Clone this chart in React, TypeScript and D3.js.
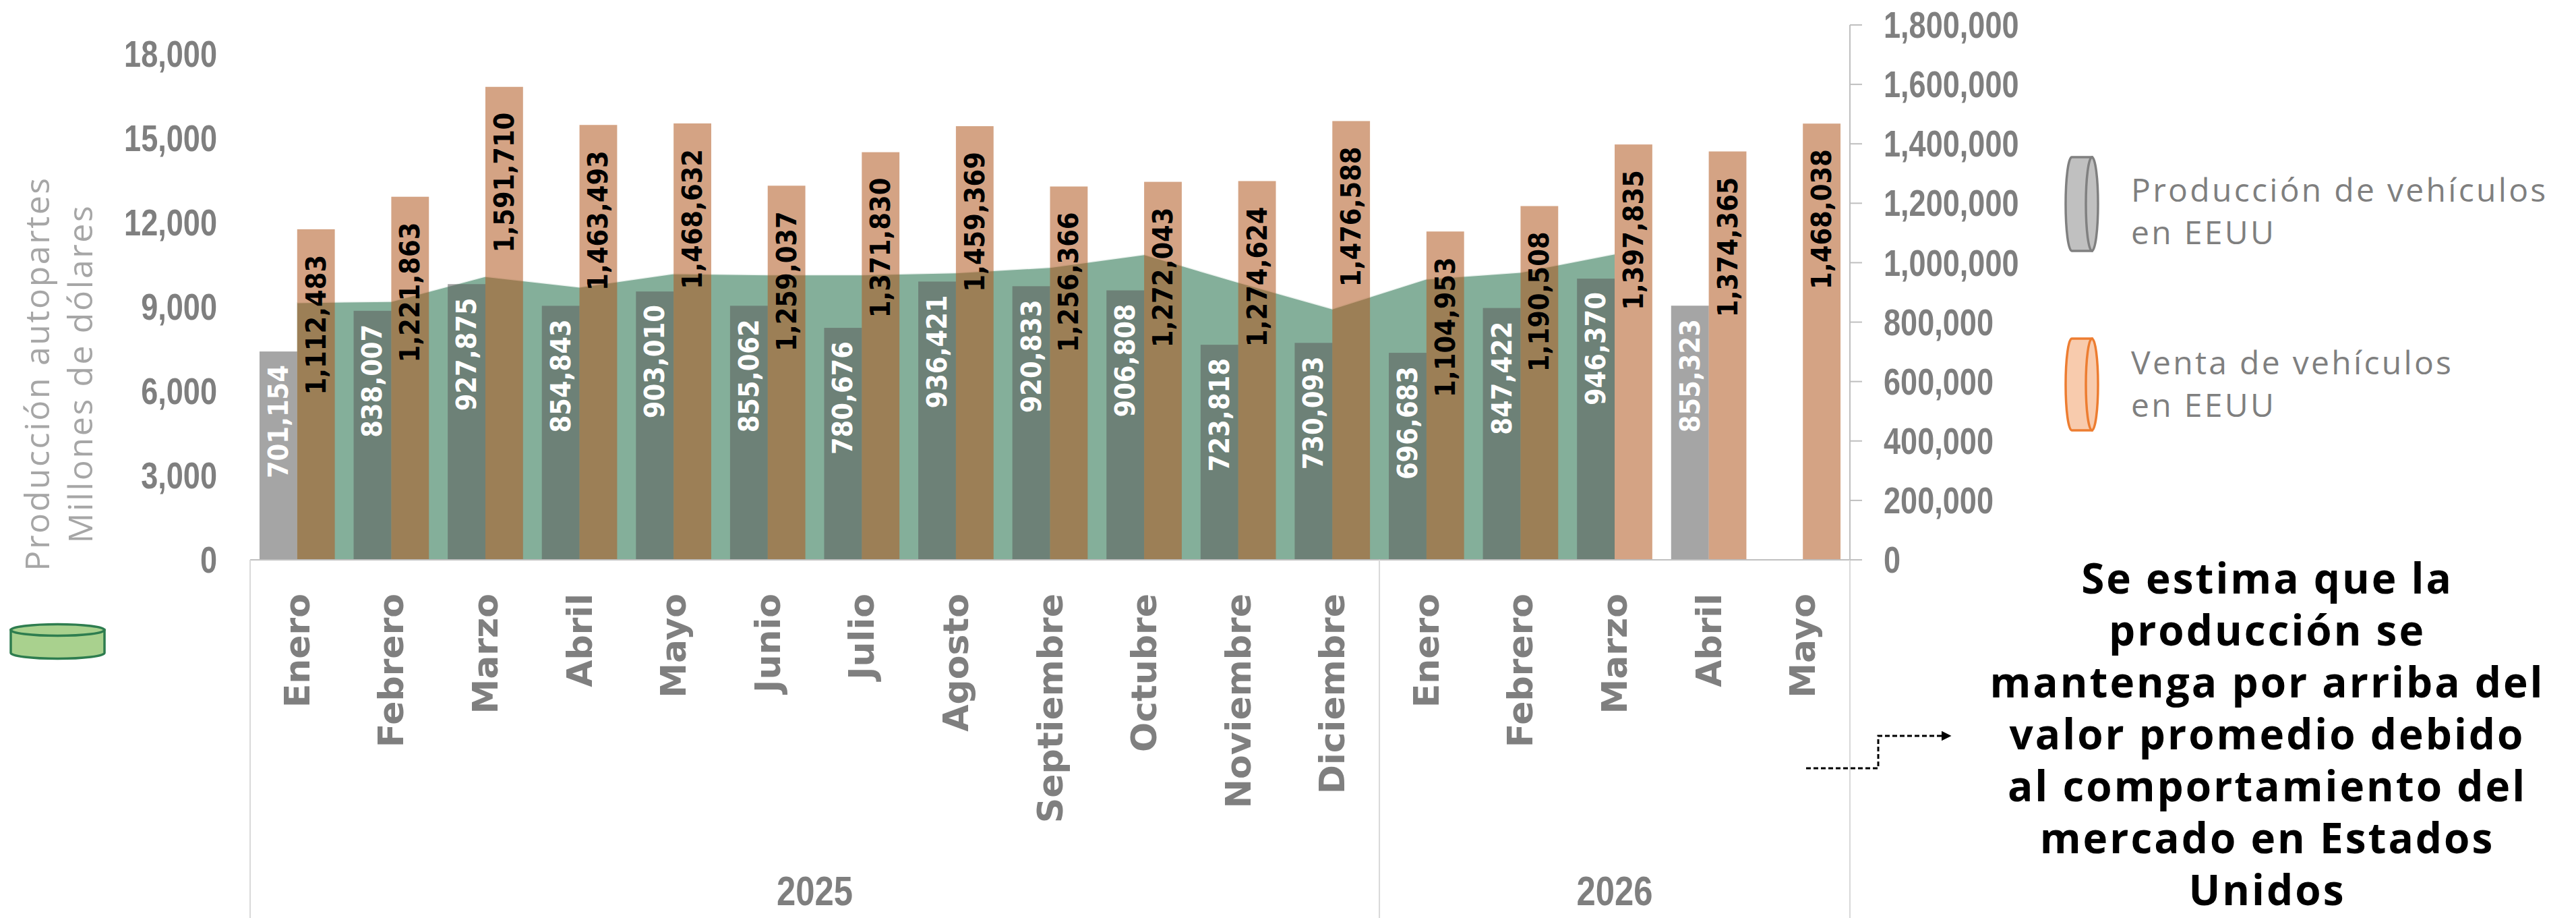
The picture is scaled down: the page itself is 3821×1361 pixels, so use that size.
import React, { useEffect } from "react";
import * as d3 from "d3";

// ---------------- DATA ----------------
const months = [
  "Enero", "Febrero", "Marzo", "Abril", "Mayo", "Junio", "Julio", "Agosto",
  "Septiembre", "Octubre", "Noviembre", "Diciembre",
  "Enero", "Febrero", "Marzo", "Abril", "Mayo",
];
const yearLabels = ["2025", "2026"];
const yearMonthCounts = [12, 5];

// Producción de vehículos en EEUU (unidades, eje derecho)
const produccion: (number | null)[] = [
  701154, 838007, 927875, 854843, 903010, 855062, 780676, 936421,
  920833, 906808, 723818, 730093, 696683, 847422, 946370, 855323, null,
];
// Venta de vehículos en EEUU (unidades, eje derecho)
const ventas: number[] = [
  1112483, 1221863, 1591710, 1463493, 1468632, 1259037, 1371830, 1459369,
  1256366, 1272043, 1274624, 1476588, 1104953, 1190508, 1397835, 1374365, 1468038,
];
// Producción autopartes, millones de dólares (eje izquierdo)
const autopartes: number[] = [
  9170, 9210, 10100, 9720, 10200, 10160, 10160, 10230, 10420, 10880,
  9890, 8950, 10010, 10250, 10900,
];

const leftTicks = [0, 3000, 6000, 9000, 12000, 15000, 18000];
const rightTicks = [0, 200000, 400000, 600000, 800000, 1000000, 1200000, 1400000, 1600000, 1800000];

const leftTitle = ["Producción autopartes", "Millones de dólares"];
const legendProd = ["Producción de vehículos", "en EEUU"];
const legendVenta = ["Venta de vehículos", "en EEUU"];
const note = [
  "Se estima que la",
  "producción se",
  "mantenga por arriba del",
  "valor promedio debido",
  "al comportamiento del",
  "mercado en Estados",
  "Unidos",
];

// ---------------- LAYOUT ----------------
const W = 3821;
const H = 1361;
const X0 = 371;
const X1 = 2744;
const BASE = 830;
const TOP_L = 80;
const TOP_R = 37;
const NARROW = 0.82;

const fmt = d3.format(",");

const lib = "'Liberation Sans', Arial, sans-serif";
const thin = "'Open Sans', 'Noto Sans', sans-serif";
const verd = "'DejaVu Sans', Verdana, sans-serif";

export default function App() {
  useEffect(() => {
    document.body.style.margin = "0";
    document.body.style.overflow = "hidden";
  }, []);

  const x = d3.scaleBand<number>().domain(d3.range(months.length)).range([X0, X1]).padding(0);
  const step = x.step();
  const cx = (i: number) => (x(i) as number) + step / 2;
  const barW = step * 0.4;
  const yL = d3.scaleLinear().domain([0, 18000]).range([BASE, TOP_L]);
  const yR = d3.scaleLinear().domain([0, 1800000]).range([BASE, TOP_R]);

  const areaGen = d3
    .area<number>()
    .x((_, i) => cx(i))
    .y0(yL(0))
    .y1((d) => yL(d));
  const lineGen = d3
    .line<number>()
    .x((_, i) => cx(i))
    .y((d) => yL(d));

  const groups: { label: string; start: number; end: number }[] = [];
  let acc = 0;
  yearLabels.forEach((lab, k) => {
    groups.push({ label: lab, start: acc, end: acc + yearMonthCounts[k] });
    acc += yearMonthCounts[k];
  });

  const axisX = X1;
  const dividerXs = [X0, ...groups.map((g) => (x(g.start) as number) + step * (g.end - g.start))];

  return (
    <svg
      width={W}
      height={H}
      viewBox={`0 0 ${W} ${H}`}
      style={{ position: "absolute", left: 0, top: 0, display: "block", background: "#fff" }}
    >
      <rect x={0} y={0} width={W} height={H} fill="#ffffff" />

      {/* area autopartes */}
      <path d={areaGen(autopartes) || ""} fill="#84AF9A" />
      <path d={lineGen(autopartes) || ""} fill="none" stroke="#ffffff" strokeOpacity={0.85} strokeWidth={3} />

      {/* bars */}
      {produccion.map((v, i) =>
        v == null ? null : (
          <rect
            key={"p" + i}
            x={cx(i) - barW}
            y={yR(v)}
            width={barW}
            height={yR(0) - yR(v)}
            fill="#5B5B5B"
            fillOpacity={0.55}
          />
        )
      )}
      {ventas.map((v, i) => (
        <rect
          key={"v" + i}
          x={cx(i)}
          y={yR(v)}
          width={barW}
          height={yR(0) - yR(v)}
          fill="#B1581F"
          fillOpacity={0.55}
        />
      ))}

      {/* data labels */}
      {produccion.map((v, i) =>
        v == null ? null : (
          <text
            key={"pl" + i}
            transform={`translate(${cx(i) - barW / 2},${yR(v) + 20}) rotate(-90)`}
            textAnchor="end"
            dominantBaseline="central"
            fontFamily={verd}
            fontStretch="condensed"
            fontWeight={700}
            fontSize={41}
            fill="#ffffff"
          >
            {fmt(v)}
          </text>
        )
      )}
      {ventas.map((v, i) => (
        <text
          key={"vl" + i}
          transform={`translate(${cx(i) + barW / 2},${yR(v) + 38}) rotate(-90)`}
          textAnchor="end"
          dominantBaseline="central"
          fontFamily={verd}
          fontStretch="condensed"
          fontWeight={700}
          fontSize={41}
          fill="#000000"
        >
          {fmt(v)}
        </text>
      ))}

      {/* baseline */}
      <line x1={X0} x2={axisX + 18} y1={BASE} y2={BASE} stroke="#bfbfbf" strokeWidth={2} />
      {/* category dividers */}
      {dividerXs.map((dx, j) => (
        <line key={"d" + j} x1={dx} x2={dx} y1={BASE} y2={H} stroke="#d9d9d9" strokeWidth={2} />
      ))}

      {/* right axis */}
      <line x1={axisX} x2={axisX} y1={yR(1800000)} y2={BASE} stroke="#bfbfbf" strokeWidth={2} />
      {rightTicks.map((t) => (
        <g key={"rt" + t}>
          <line x1={axisX} x2={axisX + 18} y1={yR(t)} y2={yR(t)} stroke="#bfbfbf" strokeWidth={2} />
          <text
            transform={`translate(${axisX + 50},${yR(t)}) scale(${NARROW},1)`}
            dominantBaseline="central"
            fontFamily={lib}
            fontWeight={700}
            fontSize={55}
            fill="#7f7f7f"
          >
            {fmt(t)}
          </text>
        </g>
      ))}

      {/* left axis labels */}
      {leftTicks.map((t) => (
        <text
          key={"lt" + t}
          transform={`translate(322,${yL(t)}) scale(${NARROW},1)`}
          textAnchor="end"
          dominantBaseline="central"
          fontFamily={lib}
          fontWeight={700}
          fontSize={55}
          fill="#7f7f7f"
        >
          {fmt(t)}
        </text>
      ))}

      {/* left axis title */}
      <text
        transform="translate(73,554) rotate(-90)"
        textAnchor="middle"
        fontFamily={thin}
        fontWeight={400}
        fontSize={50}
        letterSpacing={2.6}
        fill="#a6a6a6"
      >
        {leftTitle.map((s, k) => (
          <tspan key={"title" + k} x={0} dy={k === 0 ? 0 : 64}>
            {s}
          </tspan>
        ))}
      </text>

      {/* category labels */}
      {months.map((m, i) => (
        <text
          key={"m" + i}
          transform={`translate(${cx(i)},880) rotate(-90)`}
          textAnchor="end"
          dominantBaseline="central"
          fontFamily={verd}
          fontWeight={700}
          fontSize={52}
          fill="#7f7f7f"
        >
          {m}
        </text>
      ))}

      {/* year labels */}
      {groups.map((g) => (
        <text
          key={g.label}
          transform={`translate(${(x(g.start) as number) + (step * (g.end - g.start)) / 2},1342) scale(${NARROW},1)`}
          textAnchor="middle"
          fontFamily={lib}
          fontWeight={700}
          fontSize={62}
          fill="#7f7f7f"
        >
          {g.label}
        </text>
      ))}

      {/* green cylinder (autopartes legend) */}
      <g stroke="#2E7D4F" strokeWidth={3.5} fill="#A9D18E">
        <path d="M16,934 L16,968 A69.5,8.5 0 0 0 155,968 L155,934 Z" />
        <ellipse cx={85.5} cy={934} rx={69.5} ry={8.5} />
      </g>

      {/* legend: production */}
      <g stroke="#808080" strokeWidth={3.5} fill="#C0C0C0">
        <path d="M3103,233 L3073,233 A9,69.5 0 0 0 3073,372 L3103,372 Z" />
        <ellipse cx={3103} cy={302.5} rx={9} ry={69.5} />
      </g>
      <text x={3161} y={299} fontFamily={thin} fontSize={48} letterSpacing={3.3} fill="#7f7f7f">
        {legendProd.map((s, k) => (
          <tspan key={"lp" + k} x={3161} dy={k === 0 ? 0 : 63}>
            {s}
          </tspan>
        ))}
      </text>
      {/* legend: ventas */}
      <g stroke="#ED7D31" strokeWidth={3.5} fill="#F8CBAD">
        <path d="M3103,502 L3073,502 A9,68 0 0 0 3073,638 L3103,638 Z" />
        <ellipse cx={3103} cy={570} rx={9} ry={68} />
      </g>
      <text x={3161} y={555} fontFamily={thin} fontSize={48} letterSpacing={3.3} fill="#7f7f7f">
        {legendVenta.map((s, k) => (
          <tspan key={"lv" + k} x={3161} dy={k === 0 ? 0 : 63}>
            {s}
          </tspan>
        ))}
      </text>

      {/* dashed arrow */}
      <defs>
        <marker id="arrowHead" viewBox="0 0 10 10" refX={9} refY={5} markerWidth={5} markerHeight={5} orient="auto" markerUnits="strokeWidth">
          <path d="M0,0 L10,5 L0,10 Z" fill="#000" />
        </marker>
      </defs>
      <path
        d="M2679,1139 L2786,1139 L2786,1091 L2893,1091"
        fill="none"
        stroke="#000"
        strokeWidth={3}
        strokeDasharray="7 4"
        markerEnd="url(#arrowHead)"
      />

      {/* annotation */}
      <text
        x={3363}
        y={880}
        textAnchor="middle"
        fontFamily={thin}
        fontWeight={700}
        fontSize={62}
        letterSpacing={3}
        fill="#000000"
      >
        {note.map((s, k) => (
          <tspan key={"n" + k} x={3363} dy={k === 0 ? 0 : 77}>
            {s}
          </tspan>
        ))}
      </text>
    </svg>
  );
}
